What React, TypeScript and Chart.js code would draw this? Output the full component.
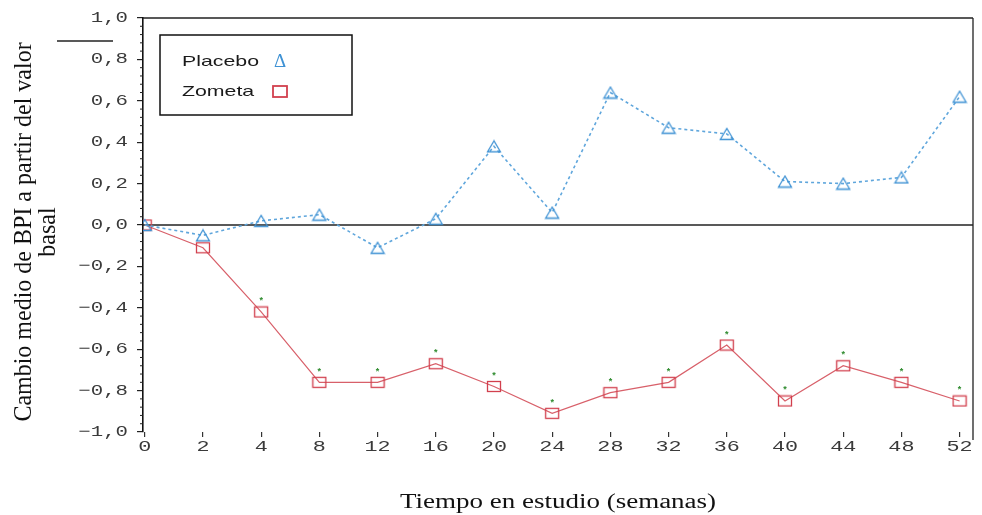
import React, { useEffect, useRef } from "react";
import { Chart, registerables } from "chart.js";

Chart.register(...registerables);

const weekLabels = ["0", "2", "4", "8", "12", "16", "20", "24", "28", "32", "36", "40", "44", "48", "52"];
const placeboValues = [0.0, -0.05, 0.02, 0.05, -0.11, 0.03, 0.38, 0.06, 0.64, 0.47, 0.44, 0.21, 0.2, 0.23, 0.62];
const zometaValues = [0.0, -0.11, -0.42, -0.76, -0.76, -0.67, -0.78, -0.91, -0.81, -0.76, -0.58, -0.85, -0.68, -0.76, -0.85];
const zometaSignificant = [false, false, true, true, true, true, true, true, true, true, true, true, true, true, true];
const yTickValues = [-1, -0.8, -0.6, -0.4, -0.2, 0, 0.2, 0.4, 0.6, 0.8, 1];

const BLUE = "#3f92d4";
const BLUE_LINE = "#5fa6dc";
const RED = "#d2404e";
const RED_LINE = "#d8606a";
const LABEL = "#3a3a3a";
const STRETCH = 1.38;

function fmt(v: number): string {
  const x = Math.abs(v) < 1e-9 ? 0 : v;
  const s = x.toFixed(1).replace(".", ",");
  return x < 0 ? "\u2212" + s.slice(1) : s;
}

function makeTriangle(): HTMLCanvasElement {
  const c = document.createElement("canvas");
  c.width = 16;
  c.height = 14;
  const g = c.getContext("2d")!;
  g.strokeStyle = BLUE;
  g.lineWidth = 1.3;
  g.beginPath();
  g.moveTo(8, 1.5);
  g.lineTo(1.5, 12.5);
  g.lineTo(14.5, 12.5);
  g.closePath();
  g.stroke();
  return c;
}

function makeRect(): HTMLCanvasElement {
  const c = document.createElement("canvas");
  c.width = 16;
  c.height = 13;
  const g = c.getContext("2d")!;
  g.strokeStyle = RED;
  g.lineWidth = 1.3;
  g.strokeRect(1.5, 1.5, 13, 10);
  return c;
}

function stretchedText(ctx: any, text: string, x: number, y: number, sx: number, align: string) {
  ctx.save();
  ctx.translate(x, y);
  ctx.scale(sx, 1);
  ctx.textAlign = align;
  ctx.fillText(text, 0, 0);
  ctx.restore();
}

function verticalText(ctx: any, text: string, x: number, y: number, sx: number) {
  ctx.save();
  ctx.translate(x, y);
  ctx.scale(sx, 1);
  ctx.rotate(-Math.PI / 2);
  ctx.textAlign = "center";
  ctx.textBaseline = "middle";
  ctx.fillText(text, 0, 0);
  ctx.restore();
}

const decorPlugin = {
  id: "decor",
  beforeDatasetsDraw(chart: any) {
    const { ctx, chartArea } = chart;
    const y = chart.scales.y;
    ctx.save();
    ctx.strokeStyle = "#222";
    ctx.lineWidth = 1.3;
    const y0 = y.getPixelForValue(0);
    ctx.beginPath();
    ctx.moveTo(chartArea.left, y0);
    ctx.lineTo(chartArea.right, y0);
    ctx.stroke();
    ctx.beginPath();
    ctx.moveTo(chartArea.left, chartArea.top);
    ctx.lineTo(chartArea.right, chartArea.top);
    ctx.moveTo(chartArea.right, chartArea.top);
    ctx.lineTo(chartArea.right, chartArea.bottom + 8);
    ctx.stroke();
    ctx.lineWidth = 1;
    for (let k = 0; k <= 50; k++) {
      if (k % 5 === 0) continue;
      const v = -1 + k * 0.04;
      const py = y.getPixelForValue(v);
      ctx.beginPath();
      ctx.moveTo(chartArea.left - 3, py);
      ctx.lineTo(chartArea.left, py);
      ctx.stroke();
    }
    ctx.fillStyle = LABEL;
    ctx.font = "15px 'Liberation Mono'";
    ctx.textBaseline = "middle";
    yTickValues.forEach((v) => {
      stretchedText(ctx, fmt(v), chartArea.left - 15, y.getPixelForValue(v), STRETCH, "right");
    });
    const x = chart.scales.x;
    weekLabels.forEach((lab, i) => {
      stretchedText(ctx, lab, x.getPixelForValue(i), chartArea.bottom + 15, 1.45, "center");
    });
    ctx.restore();
  },
  afterDraw(chart: any) {
    const { ctx, chartArea } = chart;
    ctx.save();
    const meta = chart.getDatasetMeta(1);
    ctx.fillStyle = "#2e8b2e";
    ctx.font = "bold 9px 'Liberation Sans'";
    ctx.textAlign = "center";
    ctx.textBaseline = "middle";
    meta.data.forEach((pt: any, i: number) => {
      if (zometaSignificant[i]) ctx.fillText("*", pt.x, pt.y - 11);
    });
    // legend box
    ctx.strokeStyle = "#111";
    ctx.lineWidth = 1.5;
    ctx.strokeRect(160, 35, 192, 80);
    ctx.font = "15px 'Liberation Sans'";
    ctx.textBaseline = "middle";
    ctx.fillStyle = "#1a1a1a";
    stretchedText(ctx, "Placebo", 182, 62, 1.42, "left");
    stretchedText(ctx, "Zometa", 182, 92, 1.42, "left");
    ctx.fillStyle = BLUE;
    ctx.font = "18px 'Liberation Serif'";
    stretchedText(ctx, "\u0394", 280, 62, 1.05, "center");
    ctx.strokeStyle = RED;
    ctx.lineWidth = 1.8;
    ctx.strokeRect(273, 86, 14, 11);
    // y title
    ctx.fillStyle = "#111";
    ctx.font = "24px 'Liberation Serif'";
    verticalText(ctx, "Cambio medio de BPI a partir del valor", 24, 232, 1.08);
    verticalText(ctx, "basal", 48, 232, 1.08);
    // stray line at top-left
    ctx.strokeStyle = "#222";
    ctx.lineWidth = 1.3;
    ctx.beginPath();
    ctx.moveTo(57, 41);
    ctx.lineTo(113, 41);
    ctx.stroke();
    // x title
    ctx.font = "20px 'Liberation Serif'";
    ctx.textBaseline = "middle";
    stretchedText(ctx, "Tiempo en estudio (semanas)", (chartArea.left + chartArea.right) / 2, 503, 1.35, "center");
    ctx.restore();
  },
};

export default function App() {
  const ref = useRef<HTMLCanvasElement | null>(null);
  useEffect(() => {
    if (!ref.current) return;
    const tri = makeTriangle();
    const rect = makeRect();
    const chart = new Chart(ref.current, {
      type: "line",
      data: {
        datasets: [
          {
            label: "Placebo",
            data: placeboValues.map((v, i) => ({ x: i, y: v })),
            borderColor: BLUE_LINE,
            borderWidth: 1.6,
            borderDash: [3, 3],
            pointStyle: tri as any,
            pointRadius: 7,
            tension: 0,
            fill: false,
          },
          {
            label: "Zometa",
            data: zometaValues.map((v, i) => ({ x: i, y: v })),
            borderColor: RED_LINE,
            borderWidth: 1.2,
            pointStyle: rect as any,
            pointRadius: 7,
            tension: 0,
            fill: false,
          },
        ],
      },
      options: {
        animation: false,
        responsive: true,
        maintainAspectRatio: false,
        layout: { padding: { top: 18, right: 9, left: 0, bottom: 0 } },
        plugins: { legend: { display: false }, tooltip: { enabled: false } },
        scales: {
          x: {
            type: "linear",
            min: -0.03,
            max: 14.23,
            afterFit: (s: any) => {
              s.height = 83;
            },
            afterBuildTicks: (s: any) => {
              s.ticks = weekLabels.map((_, i) => ({ value: i }));
            },
            ticks: { display: false, autoSkip: false },
            grid: { drawOnChartArea: false, tickLength: 5, color: "#333", lineWidth: 1.2 },
            border: { display: false },
          },
          y: {
            min: -1,
            max: 1,
            afterFit: (s: any) => {
              s.width = 143;
            },
            afterBuildTicks: (s: any) => {
              s.ticks = yTickValues.map((v) => ({ value: v }));
            },
            ticks: { display: false },
            grid: { drawOnChartArea: false, tickLength: 6, color: "#222", lineWidth: 1.2 },
            border: { display: true, color: "#111", width: 1.6 },
          },
        },
      },
      plugins: [decorPlugin],
    });
    return () => chart.destroy();
  }, []);
  return (
    <div style={{ position: "absolute", left: 0, top: 0, width: 982, height: 515, background: "#fff" }}>
      <canvas ref={ref} />
    </div>
  );
}
